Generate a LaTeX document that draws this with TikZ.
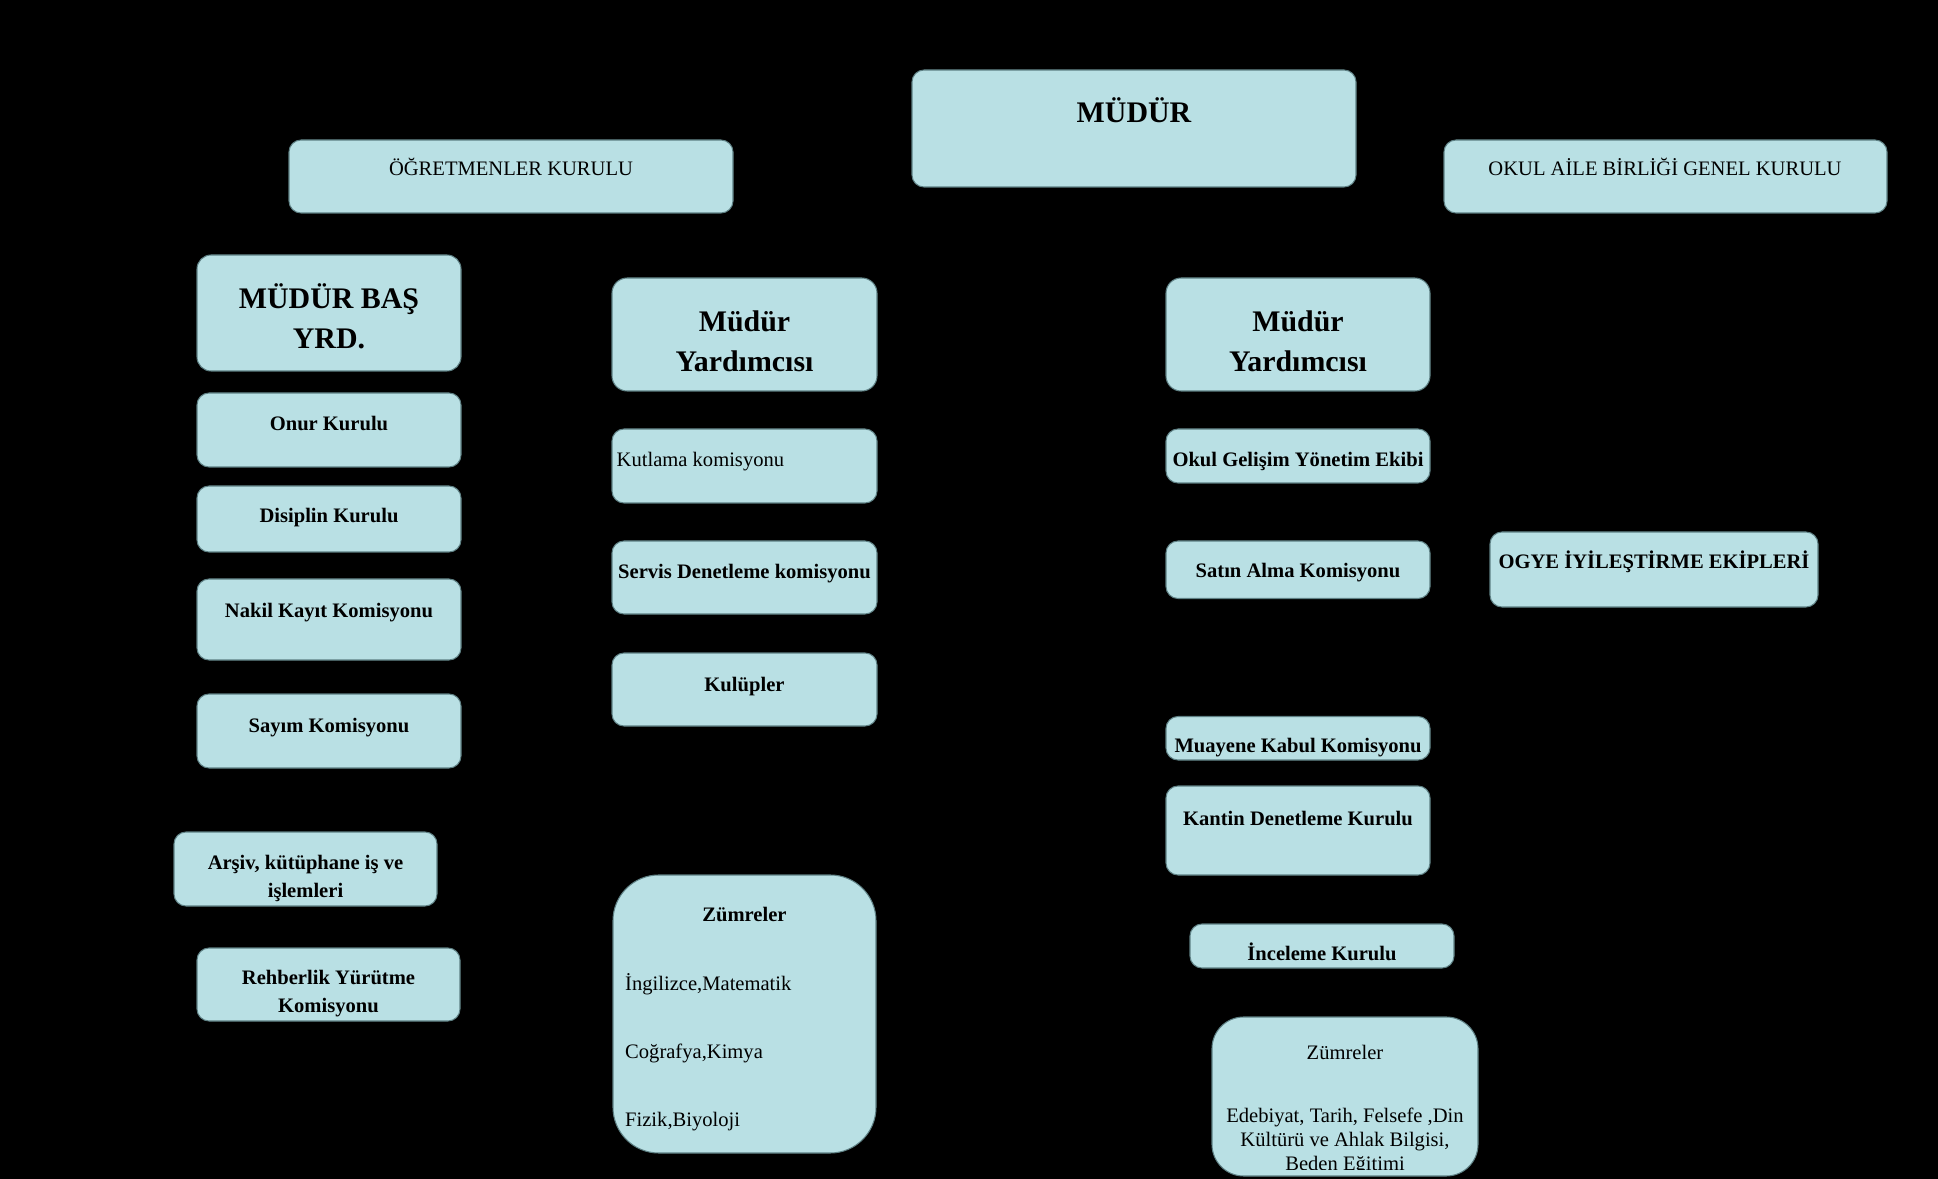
\documentclass[tikz,border=0pt]{standalone}
\usepackage{fontspec}
\setmainfont{Liberation Serif}
\definecolor{kutumavi}{HTML}{B9E0E4}
\definecolor{kenar}{HTML}{5E8084}
\usetikzlibrary{fit}
\newcommand\buyukyazi{\fontsize{8.5}{11.4}\selectfont\bfseries}
\newcommand\kucukkalin{\fontsize{5.85}{7.7}\selectfont\bfseries}
\newcommand\kucukyazi{\fontsize{5.85}{6.8}\selectfont}

\begin{document}
\begin{tikzpicture}[x=0.01cm, y=-0.01cm,
    kutu/.style={draw=kenar, fill=kutumavi, line width=0.3pt, inner sep=0pt, rounded corners=3.4pt},
    baslik/.style={font=\buyukyazi, anchor=base, align=center, inner sep=0pt},
    kalin/.style={font=\kucukkalin, anchor=base, align=center, inner sep=0pt},
    duz/.style={font=\kucukyazi, anchor=base, align=center, inner sep=0pt}]
  \fill[black] (0,0) rectangle (1938,1179);

  % ust sira
  \node[kutu, fit={(912,70) (1356,187)}] (mudur) {};
  \node[baslik] (mudur-t) at (1134,123) {MÜDÜR};
  \node[kutu, fit={(289,140) (733,213)}] (ogrkurul) {};
  \node[duz] (ogrkurul-t) at (511,176) {ÖĞRETMENLER KURULU};
  \node[kutu, fit={(1444,140) (1887,213)}] (aile) {};
  \node[duz] (aile-t) at (1665,176) {OKUL AİLE BİRLİĞİ GENEL KURULU};

  % mudur bas yardimcisi sutunu (cok satirli yazilar son satirin tabanina gore)
  \node[kutu, rounded corners=4pt, fit={(197,255) (461,371)}] (basyrd) {};
  \node[baslik] (basyrd-t) at (329,349) {MÜDÜR BAŞ\\YRD.};
  \node[kutu, fit={(197,393) (461,467)}] (onur) {};
  \node[kalin] (onur-t) at (329,431) {Onur Kurulu};
  \node[kutu, fit={(197,486) (461,552)}] (disiplin) {};
  \node[kalin] (disiplin-t) at (329,523) {Disiplin Kurulu};
  \node[kutu, fit={(197,579) (461,660)}] (nakil) {};
  \node[kalin] (nakil-t) at (329,617) {Nakil Kayıt Komisyonu};
  \node[kutu, fit={(197,694) (461,768)}] (sayim) {};
  \node[kalin] (sayim-t) at (329,732) {Sayım Komisyonu};
  \node[kutu, fit={(174,832) (437,906)}] (arsiv) {};
  \node[kalin] (arsiv-t) at (305.5,897) {Arşiv, kütüphane iş ve\\işlemleri};
  \node[kutu, fit={(197,948) (460,1021)}] (rehber) {};
  \node[kalin] (rehber-t) at (328.5,1012) {Rehberlik Yürütme\\Komisyonu};

  % birinci mudur yardimcisi sutunu
  \node[kutu, rounded corners=4.3pt, fit={(612,278) (877,391)}] (yrdbir) {};
  \node[baslik] (yrdbir-t) at (744.5,372) {Müdür\\Yardımcısı};
  \node[kutu, fit={(612,429) (877,503)}] (kutlama) {};
  \node[duz, anchor=base west] (kutlama-t) at (616,467) {Kutlama komisyonu};
  \node[kutu, fit={(612,541) (877,614)}] (servis) {};
  \node[kalin] (servis-t) at (744.5,579) {Servis Denetleme komisyonu};
  \node[kutu, fit={(612,653) (877,726)}] (kulup) {};
  \node[kalin] (kulup-t) at (744.5,691) {Kulüpler};
  \node[kutu, rounded corners=13pt, fit={(613,875) (876,1153)}] (zumrebir) {};
  \node[kalin] (zumrebir-t) at (744.5,921.5) {Zümreler};
  \node[duz, anchor=base west] (zumrebir-a) at (624.5,990) {İngilizce,Matematik};
  \node[duz, anchor=base west] (zumrebir-b) at (624.5,1058) {Coğrafya,Kimya};
  \node[duz, anchor=base west] (zumrebir-c) at (624.5,1126.5) {Fizik,Biyoloji};

  % ikinci mudur yardimcisi sutunu
  \node[kutu, rounded corners=4.3pt, fit={(1166,278) (1430,391)}] (yrdiki) {};
  \node[baslik] (yrdiki-t) at (1298,372) {Müdür\\Yardımcısı};
  \node[kutu, fit={(1166,429) (1430,483)}] (gelisim) {};
  \node[kalin] (gelisim-t) at (1298,466) {Okul Gelişim Yönetim Ekibi};
  \node[kutu, fit={(1166,541) (1430,598.5)}] (satin) {};
  \node[kalin] (satin-t) at (1298,577.5) {Satın Alma Komisyonu};
  \node[kutu, fit={(1490,532) (1818,607)}] (iyilestirme) {};
  \node[kalin] (iyilestirme-t) at (1654,569) {OGYE İYİLEŞTİRME EKİPLERİ};
  \node[kutu, fit={(1166,716.5) (1430,760)}] (muayene) {};
  \node[kalin] (muayene-t) at (1298,752.5) {Muayene Kabul Komisyonu};
  \node[kutu, fit={(1166,786) (1430,875)}] (kantin) {};
  \node[kalin] (kantin-t) at (1298,825) {Kantin Denetleme Kurulu};
  \node[kutu, fit={(1190,924) (1454,968)}] (inceleme) {};
  \node[kalin] (inceleme-t) at (1322,960.5) {İnceleme Kurulu};
  \node[kutu, rounded corners=9pt, fit={(1212,1017) (1478,1176)}] (zumreiki) {};
  \node[duz] (zumreiki-t) at (1345,1059) {Zümreler};
  \begin{scope}
    \clip (1212,1017) rectangle (1478,1169);
    \node[duz] (zumreiki-a) at (1345,1170) {Edebiyat, Tarih, Felsefe ,Din\\Kültürü ve Ahlak Bilgisi,\\Beden Eğitimi};
  \end{scope}
\end{tikzpicture}
\end{document}
